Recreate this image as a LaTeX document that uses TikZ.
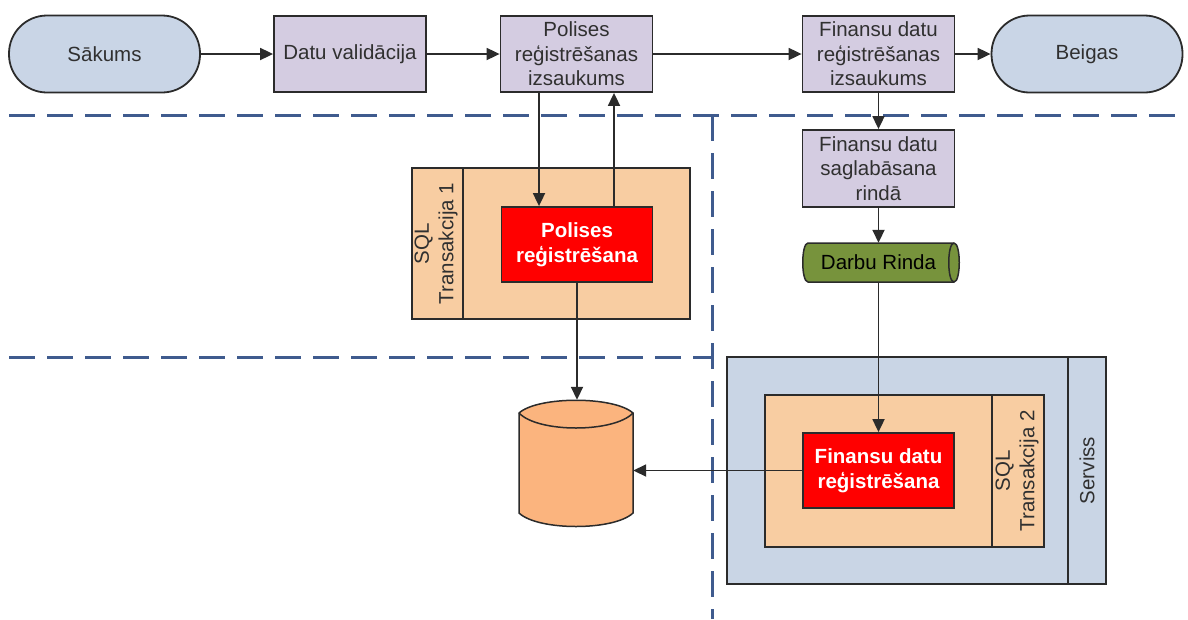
\documentclass[tikz,border=0pt]{standalone}
\usepackage{fontspec}
\setmainfont{Liberation Sans}
\usetikzlibrary{arrows.meta,calc}
\definecolor{termfill}{HTML}{C9D5E6}
\definecolor{procfill}{HTML}{D4CCE1}
\definecolor{sqlfill}{HTML}{F8CDA2}
\definecolor{servfill}{HTML}{C9D5E5}
\definecolor{dbfill}{HTML}{FBB47E}
\definecolor{queuefill}{HTML}{77933C}
\definecolor{lanec}{HTML}{3F5B8E}
\definecolor{linec}{HTML}{2B2B2B}
\definecolor{textc}{HTML}{303030}
\newcommand\diagfont{\fontsize{20.5}{24.5}\selectfont}
\tikzset{
  term/.style={draw=linec, fill=termfill, line width=1.8pt, rounded corners=38pt,
    minimum width=191pt, minimum height=77pt, inner sep=0pt, font=\diagfont, text=textc},
  proc/.style={draw=linec, fill=procfill, line width=1.8pt, minimum width=152pt,
    minimum height=76pt, inner sep=0pt, align=center, font=\diagfont, text=textc},
  redbox/.style={draw=linec, fill=red, line width=1.8pt, minimum width=151pt,
    minimum height=75pt, inner sep=0pt, align=center, font=\diagfont\bfseries, text=white},
  frame/.style={draw=linec, line width=1.8pt, inner sep=0pt},
  vlabel/.style={rotate=90, align=center, font=\diagfont, text=textc, inner sep=0pt},
  conn/.style={draw=linec, line width=1.8pt, -{Triangle[length=13pt,width=12pt]}},
  lane/.style={draw=lanec, line width=3pt, dash pattern=on 26pt off 12pt},
  hidden/.style={draw=none, inner sep=0pt},
}
\begin{document}
\begin{tikzpicture}[x=1pt,y=-1pt]
\useasboundingbox (0,0) rectangle (1188,619);
% swim lanes
\draw[lane] (9,115) -- (1182,115);
\draw[lane] (9,357) -- (712,357);
\draw[lane] (712,115) -- (712,619);
% top row
\node[term] (start) at (104.5,54) {Sākums};
\node[proc] (val) at (350,54) {Datu validācija};
\node[proc] (pcall) at (576.5,54) {Polises\\reģistrēšanas\\izsaukums};
\node[proc] (fcall) at (878.5,54) {Finansu datu\\reģistrēšanas\\izsaukums};
\node[term] (end) at (1087,54) {Beigas};
% SQL transaction 1
\node[frame, fill=sqlfill, minimum width=278pt, minimum height=151pt] (sql1) at (551,243.5) {};
\draw[linec, line width=1.8pt] (463,168) -- (463,319);
\node[vlabel] (sql1lbl) at (436,243.5) {SQL\\Transakcija 1};
\node[redbox] (preg) at (577,244.5) {Polises\\reģistrēšana};
% database
\filldraw[fill=dbfill, draw=linec, line width=1.5pt]
  (519,413) .. controls (538,396) and (614,396) .. (633,413) -- (633,513)
  .. controls (614,531) and (538,531) .. (519,513) -- cycle;
\draw[linec, line width=1.5pt] (519,413) .. controls (538,433) and (614,433) .. (633,413);
\node[hidden, minimum width=114pt, minimum height=127pt] (db) at (576,463.5) {};
% right column
\node[proc, minimum height=77pt] (fsave) at (878.5,168.5) {Finansu datu\\saglabāsana\\rindā};
\filldraw[fill=queuefill, draw=linec, line width=1.5pt]
  (808,243) -- (954,243) .. controls (961,243) and (961,282) .. (954,282)
  -- (808,282) .. controls (801,282) and (801,243) .. (808,243) -- cycle;
\draw[linec, line width=1.5pt] (954,243) .. controls (947,243) and (947,282) .. (954,282);
\node[hidden, minimum width=156pt, minimum height=39pt, font=\diagfont, text=black] (queue) at (878.5,262.5) {Darbu Rinda};
% service
\node[frame, fill=servfill, minimum width=379pt, minimum height=227pt] (serv) at (916.5,470.5) {};
\draw[linec, line width=1.8pt] (1068,357) -- (1068,584);
\node[vlabel] (servlbl) at (1087,470.5) {Serviss};
\node[frame, fill=sqlfill, minimum width=279pt, minimum height=152pt] (sql2) at (904.5,471) {};
\draw[linec, line width=1.8pt] (992,395) -- (992,547);
\node[vlabel] (sql2lbl) at (1017,471) {SQL\\Transakcija 2};
\node[redbox] (freg) at (878.5,470.5) {Finansu datu\\reģistrēšana};
% connectors
\draw[conn] (start) -- (val);
\draw[conn] (val) -- (pcall);
\draw[conn] (pcall) -- (fcall);
\draw[conn] (fcall) -- (end);
\draw[conn] ([xshift=-37.5pt]pcall.south) -- ([xshift=-38pt]preg.north);
\draw[conn] ([xshift=37pt]preg.north) -- ([xshift=37.5pt]pcall.south);
\draw[conn] (preg.south) -- (preg.south |- db.north);
\draw[conn] (fcall.south) -- (fsave.north);
\draw[conn] (fsave.south) -- (queue.north);
\draw[conn] (queue.south) -- (freg.north);
\draw[conn] (freg.west) -- (freg.west -| db.east);
\end{tikzpicture}
\end{document}
